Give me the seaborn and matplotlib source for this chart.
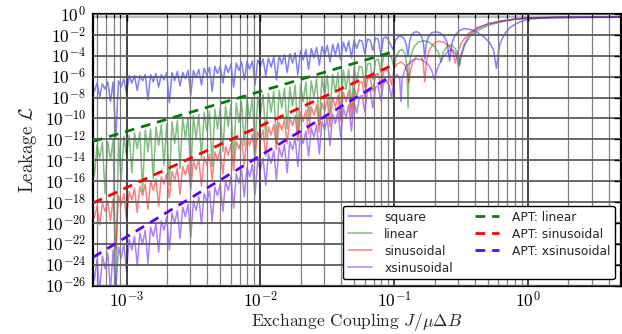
import numpy as np
import pandas as pd
import matplotlib
matplotlib.use("Agg")
import matplotlib.pyplot as plt
import seaborn as sns
from matplotlib import ticker
from matplotlib.lines import Line2D

# ---------------- data (log10 values) ----------------
# dense region: shared sampling grid in log10(J)
dense_logJ = np.round(np.linspace(-3.26, -1.30, 99), 2)

square_dense = [
    -6.7, -7.4, -6.6, -7.9, -6.7, -7.2, -6.5, -8.4, -6.5, -12.0,
    -6.4, -7.0, -6.2, -7.6, -5.9, -6.6, -5.9, -7.3, -5.9, -6.4,
    -5.8, -8.2, -5.8, -6.5, -5.7, -7.0, -5.8, -6.3, -5.6, -8.5,
    -5.6, -6.4, -5.5, -6.9, -5.6, -6.2, -5.4, -7.8, -5.4, -6.1,
    -5.3, -6.8, -5.2, -5.9, -5.1, -7.4, -5.0, -5.7, -5.0, -6.6,
    -4.9, -5.6, -4.8, -7.0, -4.7, -5.4, -4.6, -6.3, -4.5, -5.3,
    -4.5, -6.8, -4.4, -5.0, -4.3, -5.9, -4.2, -5.1, -4.1, -6.3,
    -4.0, -4.8, -3.9, -5.6, -3.8, -4.7, -3.7, -5.8, -3.5, -4.4,
    -3.4, -5.3, -3.3, -4.2, -3.2, -4.9, -3.1, -4.0, -3.0, -4.6,
    -2.9, -3.9, -2.8, -4.4, -2.7, -3.6, -2.6, -4.2, -2.5]
linear_dense = [
    -12.6, -15.5, -12.5, -13.8, -12.3, -17.2, -12.2, -14.0, -12.0, -26.5,
    -11.9, -16.0, -11.7, -13.5, -11.6, -15.2, -11.4, -12.9, -11.3, -17.0,
    -11.1, -13.2, -11.0, -15.8, -10.8, -12.6, -10.6, -14.5, -10.5, -16.4,
    -10.3, -12.4, -10.2, -14.8, -10.0, -11.9, -9.9, -15.5, -9.7, -12.0,
    -9.6, -13.8, -9.4, -11.2, -9.3, -14.6, -9.1, -11.0, -9.0, -13.2,
    -8.8, -10.8, -8.7, -14.0, -8.5, -10.4, -8.4, -12.6, -8.2, -10.0,
    -8.0, -13.1, -7.9, -9.7, -7.7, -11.8, -7.6, -9.4, -7.4, -12.4,
    -7.3, -9.0, -7.1, -11.0, -7.0, -8.8, -6.8, -11.5, -6.7, -8.4,
    -6.5, -10.2, -6.4, -8.0, -6.2, -10.6, -6.1, -7.8, -5.9, -9.5,
    -5.8, -7.5, -5.6, -9.9, -5.4, -7.2, -5.3, -9.0, -5.1]
sinusoidal_dense = [
    -18.6, -19.5, -18.4, -20.2, -18.1, -18.9, -17.9, -19.8, -17.7, -22.5,
    -17.4, -18.3, -17.2, -19.6, -17.0, -17.8, -16.7, -19.0, -16.5, -17.4,
    -16.3, -18.7, -16.0, -16.9, -15.8, -18.4, -15.6, -16.3, -15.3, -17.6,
    -15.1, -15.9, -14.8, -17.3, -14.6, -15.4, -14.4, -16.8, -14.1, -14.9,
    -13.9, -16.5, -13.7, -14.5, -13.4, -15.9, -13.2, -14.0, -13.0, -15.3,
    -12.7, -13.5, -12.5, -15.0, -12.2, -12.9, -12.0, -14.4, -11.8, -12.6,
    -11.5, -13.9, -11.3, -12.0, -11.1, -13.6, -10.8, -11.6, -10.6, -13.0,
    -10.4, -11.1, -10.1, -12.4, -9.9, -10.7, -9.7, -12.2, -9.4, -10.3,
    -9.2, -11.5, -8.9, -9.7, -8.7, -11.3, -8.5, -9.3, -8.2, -10.8,
    -8.0, -8.9, -7.8, -10.2, -7.5, -8.4, -7.3, -9.9, -7.1]
xsinusoidal_dense = [
    -23.9, -25.5, -23.5, -26.5, -23.2, -24.4, -22.9, -26.5, -22.6, -26.5,
    -22.3, -23.4, -22.0, -24.6, -21.6, -22.6, -21.3, -24.1, -21.0, -22.0,
    -20.7, -23.9, -20.4, -21.3, -20.1, -22.8, -19.8, -20.7, -19.4, -22.6,
    -19.1, -20.0, -18.8, -21.5, -18.5, -19.4, -18.2, -21.4, -17.9, -18.8,
    -17.5, -20.1, -17.2, -18.0, -16.9, -19.9, -16.6, -17.4, -16.3, -18.9,
    -16.0, -16.9, -15.6, -18.6, -15.3, -16.2, -15.0, -17.5, -14.7, -15.6,
    -14.4, -17.3, -14.1, -14.9, -13.8, -16.4, -13.4, -14.3, -13.1, -15.9,
    -12.8, -13.7, -12.5, -15.2, -12.2, -13.0, -11.9, -14.6, -11.5, -12.4,
    -11.2, -13.6, -10.9, -11.8, -10.6, -13.4, -10.3, -11.1, -10.0, -12.6,
    -9.6, -10.5, -9.3, -11.8, -9.0, -9.9, -8.7, -11.2, -8.4]

# right-hand region (log10 J, log10 L)
square_tail_logJ = [-1.28, -1.26, -1.24, -1.22, -1.20, -1.18, -1.16, -1.14, -1.12, -1.10,
                    -1.08, -1.06, -1.04, -1.01, -0.99, -0.97, -0.946, -0.925, -0.91, -0.897,
                    -0.885, -0.87, -0.85, -0.834, -0.815, -0.795, -0.782, -0.772, -0.762, -0.745,
                    -0.72, -0.69, -0.66, -0.63, -0.605, -0.586, -0.57, -0.545, -0.51, -0.474,
                    -0.43, -0.38, -0.33, -0.29, -0.26, -0.237, -0.22, -0.21, -0.175, -0.138,
                    -0.10, -0.063, 0.0, 0.1, 0.3, 0.7]
square_tail_logL = [-3.3, -2.5, -2.6, -3.8, -2.4, -2.5, -3.5, -2.3, -2.4, -3.9,
                    -2.3, -2.2, -2.6, -3.4, -2.5, -2.2, -2.1, -2.4, -2.9, -4.1,
                    -2.6, -2.0, -1.75, -1.7, -1.8, -2.2, -2.8, -4.3, -2.9, -2.2,
                    -1.8, -1.7, -1.8, -2.1, -2.7, -4.5, -2.8, -2.0, -1.55, -1.4,
                    -1.5, -1.75, -2.2, -2.7, -3.4, -5.2, -3.6, -2.8, -1.9, -1.33,
                    -1.0, -0.76, -0.5, -0.4, -0.33, -0.3]
linear_tail_logJ = [-1.28, -1.26, -1.24, -1.22, -1.20, -1.18, -1.16, -1.14, -1.12, -1.10,
                    -1.08, -1.05, -1.02, -1.00, -0.985, -0.96, -0.94, -0.92, -0.905, -0.897,
                    -0.89, -0.875, -0.85, -0.82, -0.78, -0.74, -0.70, -0.67, -0.65, -0.635,
                    -0.60, -0.57, -0.54, -0.52, -0.51, -0.50, -0.47, -0.43, -0.38, -0.30,
                    -0.20, -0.10, 0.0, 0.2, 0.7]
linear_tail_logL = [-6.4, -5.0, -5.1, -7.0, -4.8, -4.7, -6.3, -4.5, -4.3, -5.6,
                    -4.1, -3.8, -4.2, -5.2, -4.0, -3.5, -3.4, -3.8, -5.0, -9.0,
                    -5.2, -3.9, -3.1, -2.7, -2.55, -2.7, -3.1, -3.7, -4.6, -3.7,
                    -3.0, -3.0, -3.4, -4.0, -4.9, -4.0, -2.9, -2.1, -1.6, -1.1,
                    -0.75, -0.5, -0.4, -0.33, -0.31]
sinusoidal_tail_logJ = [-1.28, -1.26, -1.24, -1.22, -1.20, -1.18, -1.16, -1.14, -1.12, -1.10,
                        -1.08, -1.06, -1.04, -1.02, -1.00, -0.98, -0.95, -0.92, -0.90, -0.89,
                        -0.88, -0.86, -0.83, -0.80, -0.785, -0.772, -0.76, -0.74, -0.71, -0.67,
                        -0.63, -0.59, -0.56, -0.545, -0.53, -0.50, -0.45, -0.38, -0.30, -0.20,
                        -0.10, 0.0, 0.2, 0.7]
sinusoidal_tail_logL = [-7.9, -6.6, -6.5, -8.0, -6.2, -6.1, -7.4, -5.8, -5.7, -7.0,
                        -5.5, -5.3, -5.6, -6.8, -5.2, -4.8, -4.6, -4.9, -5.6, -6.6,
                        -5.5, -4.5, -4.0, -4.0, -4.5, -6.5, -4.6, -3.5, -2.9, -2.6,
                        -2.7, -3.1, -3.7, -4.7, -3.8, -2.8, -1.9, -1.3, -0.95, -0.7,
                        -0.5, -0.4, -0.33, -0.31]
xsinusoidal_tail_logJ = [-1.28, -1.26, -1.24, -1.22, -1.20, -1.18, -1.16, -1.14, -1.12, -1.10,
                         -1.08, -1.06, -1.04, -1.02, -1.00, -0.98, -0.96, -0.95, -0.94, -0.91,
                         -0.87, -0.83, -0.79, -0.75, -0.72, -0.70, -0.68, -0.64, -0.60, -0.57,
                         -0.55, -0.53, -0.52, -0.51, -0.48, -0.44, -0.38, -0.30, -0.20, -0.10,
                         0.0, 0.2, 0.7]
xsinusoidal_tail_logL = [-9.5, -7.9, -7.8, -9.4, -7.4, -7.3, -9.0, -7.0, -6.9, -8.3,
                         -6.6, -6.4, -6.8, -8.0, -6.2, -5.8, -6.1, -8.4, -6.1, -5.0,
                         -4.5, -4.3, -4.4, -4.8, -5.4, -6.3, -5.3, -4.2, -3.6, -3.4,
                         -3.6, -4.2, -5.2, -4.3, -3.0, -2.0, -1.4, -0.95, -0.65, -0.48,
                         -0.38, -0.3, -0.28]

# APT predictions: end points of straight power laws (log10 J, log10 L)
apt_logJ = [-3.25, -1.02]
apt_linear_logL = [-12.2, -3.66]
apt_sinusoidal_logL = [-18.1, -4.94]
apt_xsinusoidal_logL = [-23.3, -5.92]

labels_solid = ["square", "linear", "sinusoidal", "xsinusoidal"]
labels_apt = ["APT: linear", "APT: sinusoidal", "APT: xsinusoidal"]
colors = {"square": "#0000ff", "linear": "#008000", "sinusoidal": "#ff0000",
          "xsinusoidal": "#6000ff"}

# ---------------- figure ----------------
sns.set_theme(style="white")
plt.rcParams["font.family"] = ["DejaVu Sans"]
plt.rcParams["mathtext.fontset"] = "cm"

fig = plt.figure(figsize=(6.22, 3.34), dpi=100)
W, H = 622, 334
x0, x1, y0, y1 = 93, 621, 14, 285.5
ax = fig.add_axes([x0 / W, 1 - y1 / H, (x1 - x0) / W, (y1 - y0) / H])

series = {
    "square": (square_dense, square_tail_logJ, square_tail_logL),
    "linear": (linear_dense, linear_tail_logJ, linear_tail_logL),
    "sinusoidal": (sinusoidal_dense, sinusoidal_tail_logJ, sinusoidal_tail_logL),
    "xsinusoidal": (xsinusoidal_dense, xsinusoidal_tail_logJ, xsinusoidal_tail_logL),
}
for name in labels_solid:
    dense, tj, tl = series[name]
    lj = np.concatenate([dense_logJ, tj])
    ll = np.concatenate([dense, tl])
    df = pd.DataFrame({"J": 10.0 ** lj, "L": 10.0 ** ll})
    sns.lineplot(data=df, x="J", y="L", ax=ax, color=colors[name], alpha=0.5,
                 lw=1.1, estimator=None, sort=False, zorder=2)

for name, ll in zip(["linear", "sinusoidal", "xsinusoidal"],
                    [apt_linear_logL, apt_sinusoidal_logL, apt_xsinusoidal_logL]):
    df = pd.DataFrame({"J": 10.0 ** np.array(apt_logJ), "L": 10.0 ** np.array(ll)})
    sns.lineplot(data=df, x="J", y="L", ax=ax, color=colors[name], lw=2.0,
                 dashes=False, estimator=None, sort=False, zorder=3,
                 linestyle=(0, (3.5, 2.5)))

ax.axhline(0.5, color="#bbbbbb", lw=1.5, zorder=1)

ax.set_xscale("log")
ax.set_yscale("log")
ax.set_xlim(5.62e-4, 4.94)
ax.set_ylim(1e-26, 1.0)

ax.xaxis.set_major_locator(ticker.LogLocator(base=10, numticks=20))
ax.xaxis.set_minor_locator(ticker.LogLocator(base=10, subs=np.arange(2, 10), numticks=50))
ax.xaxis.set_minor_formatter(ticker.NullFormatter())
ax.yaxis.set_major_locator(ticker.FixedLocator(10.0 ** np.arange(-26, 1, 2)))
ax.yaxis.set_minor_locator(ticker.NullLocator())
fmt = ticker.FuncFormatter(lambda v, p: r"$10^{%d}$" % int(round(np.log10(v))))
ax.xaxis.set_major_formatter(fmt)
ax.yaxis.set_major_formatter(fmt)

ax.grid(which="major", axis="x", color="#111111", lw=1.1)
ax.grid(which="minor", axis="x", color="#808080", lw=0.9)
ax.grid(which="major", axis="y", color="#5a5a5a", lw=1.3)
ax.set_axisbelow(False)

ax.tick_params(which="both", direction="in", top=True, right=True, colors="black")
ax.tick_params(which="major", length=5, width=1.0, labelsize=12.5, pad=5)
ax.tick_params(axis="x", which="major", pad=4)
ax.tick_params(which="minor", length=3, width=0.8)
for s in ax.spines.values():
    s.set_color("black")
    s.set_linewidth(1.6)

ax.set_xlabel(r"Exchange Coupling $J/\mu\Delta B$", fontsize=12.5, family="cmr10", labelpad=0)
ax.set_ylabel(r"Leakage $\mathcal{L}$", fontsize=13.5, family="cmr10", labelpad=4)

handles = [Line2D([], [], color=colors[n], alpha=0.5, lw=1.1) for n in labels_solid]
handles += [Line2D([], [], color=colors[n], lw=2.0, linestyle=(0, (3.5, 2.5)))
            for n in ["linear", "sinusoidal", "xsinusoidal"]]
leg = ax.legend(handles, labels_solid + labels_apt, ncol=2, loc="lower right",
                prop={"family": "DejaVu Sans", "size": 8.8}, frameon=True, fancybox=True,
                framealpha=1, edgecolor="black", handlelength=2.0, handletextpad=1.0,
                columnspacing=1.8, borderaxespad=0.5, labelspacing=0.32)
leg.get_frame().set_linewidth(1.0)
leg.set_zorder(5)

fig.savefig("out.png", dpi=100)
